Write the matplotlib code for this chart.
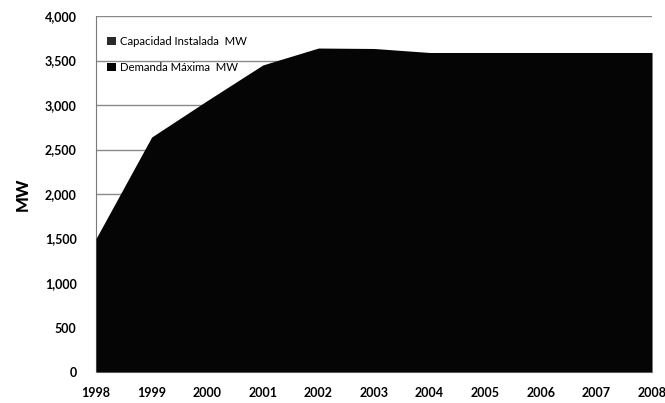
import numpy as np
import matplotlib
matplotlib.use("Agg")
import matplotlib.pyplot as plt
from matplotlib.patches import Patch
from matplotlib.ticker import FuncFormatter

years = [1998, 1999, 2000, 2001, 2002, 2003, 2004, 2005, 2006, 2007, 2008]
capacidad_mw = [1500, 2640, 3050, 3450, 3640, 3635, 3590, 3590, 3590, 3590, 3590]
y_ticks = [0, 500, 1000, 1500, 2000, 2500, 3000, 3500, 4000]
series_labels = ["Capacidad Instalada  MW", "Demanda Máxima  MW"]

plt.rcParams["font.family"] = ["Lato", "DejaVu Sans"]

fig = plt.figure(figsize=(6.65, 4.03), dpi=100)
ax = fig.add_axes([0.1444, 0.0769, 0.8361, 0.8834])

ax.fill_between(years, 0, capacidad_mw, color="#050505", lw=0, zorder=3)

ax.set_xlim(years[0], years[-1])
ax.set_ylim(0, 4000)
ax.set_xticks(years)
ax.set_yticks(y_ticks)
ax.yaxis.set_major_formatter(FuncFormatter(lambda v, p: f"{int(v):,}"))
ax.tick_params(length=0, labelsize=9)
ax.tick_params(axis="y", pad=14)
ax.tick_params(axis="x", pad=11)
for lab in ax.get_xticklabels() + ax.get_yticklabels():
    lab.set_fontweight("bold")

ax.grid(axis="y", color="#8a8a8a", lw=1.0, zorder=1)
ax.set_axisbelow(True)
for side in ["top", "right"]:
    ax.spines[side].set_visible(False)
ax.spines["left"].set_color("#7a7a7a")
ax.spines["bottom"].set_color("#b0b0b0")

ax.set_ylabel("MW", fontsize=12, fontweight="black", labelpad=10)

handles = [Patch(facecolor="#2a2a2a", edgecolor="none"),
           Patch(facecolor="#000000", edgecolor="none")]
ax.legend(handles, series_labels, loc="upper left", frameon=False,
          bbox_to_anchor=(0.0, 0.975), fontsize=8.2, handlelength=0.75,
          handleheight=0.75, handletextpad=0.35, labelspacing=1.3,
          borderaxespad=0.6)

fig.savefig("out.png", dpi=100)
